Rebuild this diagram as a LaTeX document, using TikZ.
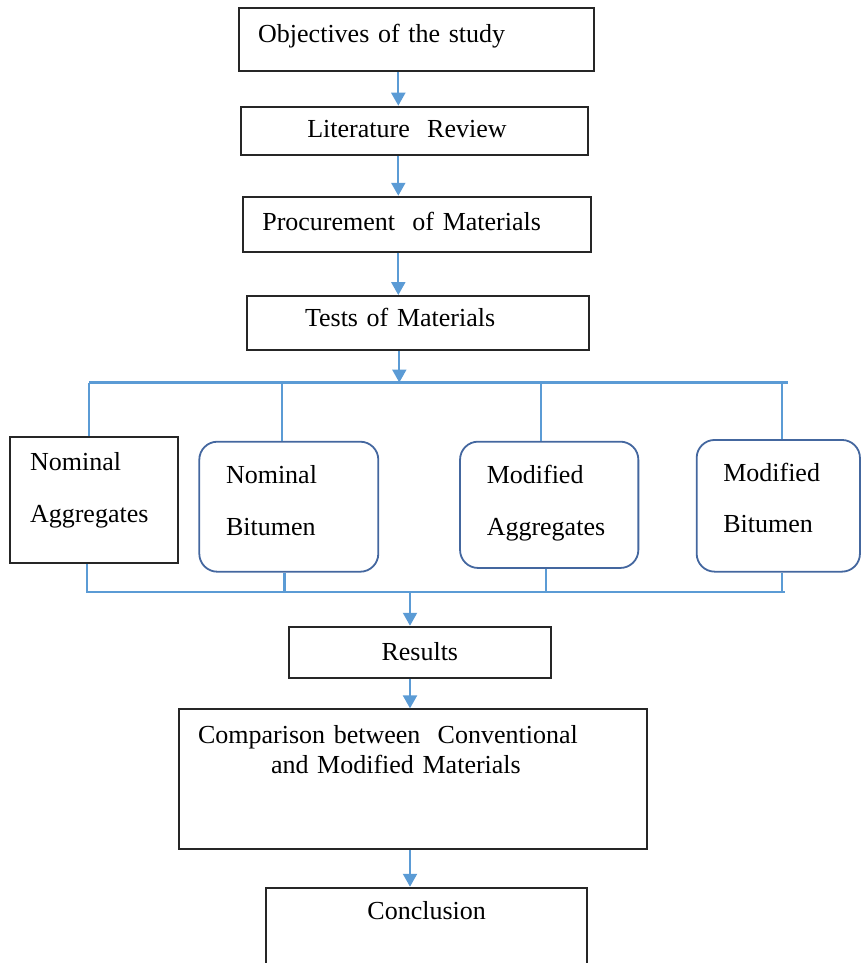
\documentclass[tikz,border=0pt]{standalone}
\usepackage{fontspec}
\setmainfont{Liberation Serif}
\usetikzlibrary{arrows.meta}
\definecolor{wire}{HTML}{5B9BD5}
\definecolor{edge}{HTML}{44679F}

\begin{document}
\begin{tikzpicture}[x=1pt,y=-1pt,>={Triangle[width=14pt,length=13pt]},
                    font=\fontsize{26}{30}\selectfont,
  flow/.style={draw=black!85,line width=1.9pt,inner ysep=0pt,text height=18pt},
  lead/.style={flow,align=left},
  soft/.style={lead,draw=edge,line width=1.8pt,rounded corners=18pt},
  link/.style={wire,line width=2.2pt},
  feed/.style={link,->}]
  \useasboundingbox (0,0) rectangle (861,963);

  % main chain of boxes
  \node[lead,inner xsep=19pt,text width=317pt,minimum height=63pt,
        text depth=12pt] (obj) at (416.7,39.7) {Objectives of the study};
  \node[lead,inner xsep=66.3pt,text width=214.7pt,minimum height=48.3pt,
        text depth=5pt] (lit) at (414.7,130.8) {Literature~ Review};
  \node[lead,inner xsep=19pt,text width=309.4pt,minimum height=55pt,
        text depth=6.4pt] (proc) at (417,224.2) {Procurement~ of Materials};
  \node[lead,inner xsep=57.7pt,text width=226.6pt,minimum height=54pt,
        text depth=10.6pt] (tests) at (418.3,323) {Tests of Materials};

  % the four test groups
  \node[lead,inner xsep=20pt,text width=128.3pt,minimum height=126.6pt,
        text depth=78pt] (nagg) at (94.2,500) {Nominal\\[22pt]Aggregates};
  \node[soft,inner xsep=26.7pt,text width=125.6pt,minimum height=130pt,
        text depth=65.4pt] (nbit) at (288.8,506.7) {Nominal\\[22pt]Bitumen};
  \node[soft,inner xsep=26.7pt,text width=124.9pt,minimum height=126.3pt,
        text depth=61.6pt] (magg) at (549.2,504.8) {Modified\\[22pt]Aggregates};
  \node[soft,inner xsep=26.6pt,text width=110.1pt,minimum height=131.7pt,
        text depth=66.2pt] (mbit) at (778.3,505.8) {Modified\\[21pt]Bitumen};

  \node[flow,minimum width=261.7pt,minimum height=51.6pt,
        text depth=3pt] (res) at (419.8,652.5) {Results};
  \node[lead,inner xsep=18.7pt,text width=430pt,minimum height=140pt,
        text depth=90pt] (cmp) at (413,779.3)
    {Comparison between~ Conventional\\\hspace*{73pt}and Modified Materials};
  \node[flow,minimum width=321.3pt,minimum height=100pt,
        text depth=54.8pt] (end) at (426.7,937.7) {Conclusion};

  \coordinate (spine) at (398.3,0);
  \draw[feed] (obj.south -| spine) -- (lit.north -| spine);
  \draw[feed] (lit.south -| spine) -- (proc.north -| spine);
  \draw[feed] (proc.south -| spine) -- (tests.north -| spine);

  % split bus
  \coordinate (split) at (399.3,382.5);
  \coordinate (splitL) at (89,382.5);
  \coordinate (splitR) at (788,382.5);
  \draw[link] (splitL) -- (splitR);
  \draw[feed] (tests.south -| split) -- (split);
  \foreach \n/\x in {nagg/89,nbit/282,magg/541,mbit/782}{
    \coordinate (u-\n) at (\x,382.5);
    \draw[link] (u-\n) -- (u-\n |- \n.north);
  }

  % merge bus
  \coordinate (merge) at (410,591.7);
  \coordinate (mergeL) at (86,591.7);
  \coordinate (mergeR) at (785,591.7);
  \draw[link] (mergeL) -- (mergeR);
  \foreach \n/\x in {nagg/87,nbit/284.5,magg/546,mbit/782}{
    \coordinate (d-\n) at (\x,591.7);
    \draw[link] (d-\n |- \n.south) -- (d-\n);
  }
  \draw[feed] (merge) -- (merge |- res.north);
  \draw[feed] (res.south -| merge) -- (cmp.north -| merge);
  \draw[feed] (cmp.south -| merge) -- (end.north -| merge);
\end{tikzpicture}
\end{document}
